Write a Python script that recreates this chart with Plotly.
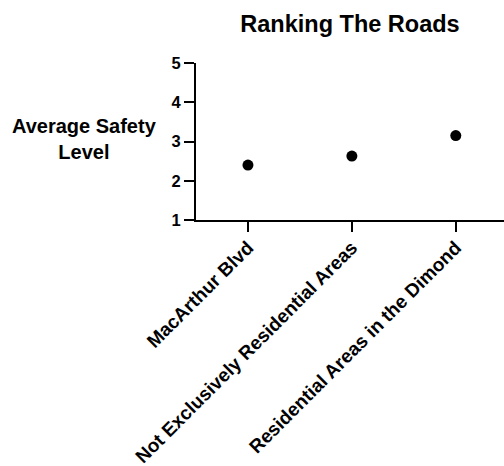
import plotly.graph_objects as go

# Road categories and their average safety level
roads = [
    "MacArthur Blvd",
    "Not Exclusively Residential Areas",
    "Residential Areas in the Dimond",
]
avg_safety = [2.40, 2.63, 3.15]
y_ticks = [1, 2, 3, 4, 5]

FONT = "Arial, Liberation Sans, Helvetica, sans-serif"

fig = go.Figure(
    go.Scatter(
        x=roads,
        y=avg_safety,
        mode="markers",
        marker=dict(color="black", size=11),
        cliponaxis=False,
    )
)

fig.update_layout(
    width=504,
    height=466,
    margin=dict(l=196, r=0, t=63, b=246, autoexpand=False),
    paper_bgcolor="white",
    plot_bgcolor="white",
    showlegend=False,
    font=dict(family=FONT, color="black"),
    title=dict(
        text="<b>Ranking The Roads</b>",
        font=dict(size=23.5, family=FONT, color="black"),
        x=0.5,
        xref="paper",
        xanchor="center",
        y=1 - 24 / 466,
        yanchor="middle",
    ),
)

fig.update_xaxes(
    type="category",
    range=[-0.5, 2.464],
    automargin=False,
    showgrid=False,
    zeroline=False,
    showline=True,
    linecolor="black",
    linewidth=2,
    ticks="outside",
    ticklen=10,
    tickwidth=2,
    tickcolor="black",
    tickangle=-45,
    ticklabelstandoff=-3,
    tickfont=dict(size=19, family=FONT, color="black", weight="bold"),
)

fig.update_yaxes(
    range=[1, 5],
    automargin=False,
    tickvals=y_ticks,
    ticktext=[str(v) for v in y_ticks],
    showgrid=False,
    zeroline=False,
    showline=True,
    linecolor="black",
    linewidth=2,
    ticks="outside",
    ticklen=10,
    tickwidth=2,
    tickcolor="black",
    tickfont=dict(size=16.5, family=FONT, color="black", weight="bold"),
)

# Horizontal y-axis title placed to the left of the axis
fig.add_annotation(
    text="<b>Average Safety<br>Level</b>",
    xref="paper",
    yref="paper",
    x=0,
    y=0.5,
    xshift=-111.5,
    yshift=2.5,
    xanchor="center",
    yanchor="middle",
    showarrow=False,
    align="center",
    font=dict(size=20, family=FONT, color="black"),
)

fig.write_html("out.html")
